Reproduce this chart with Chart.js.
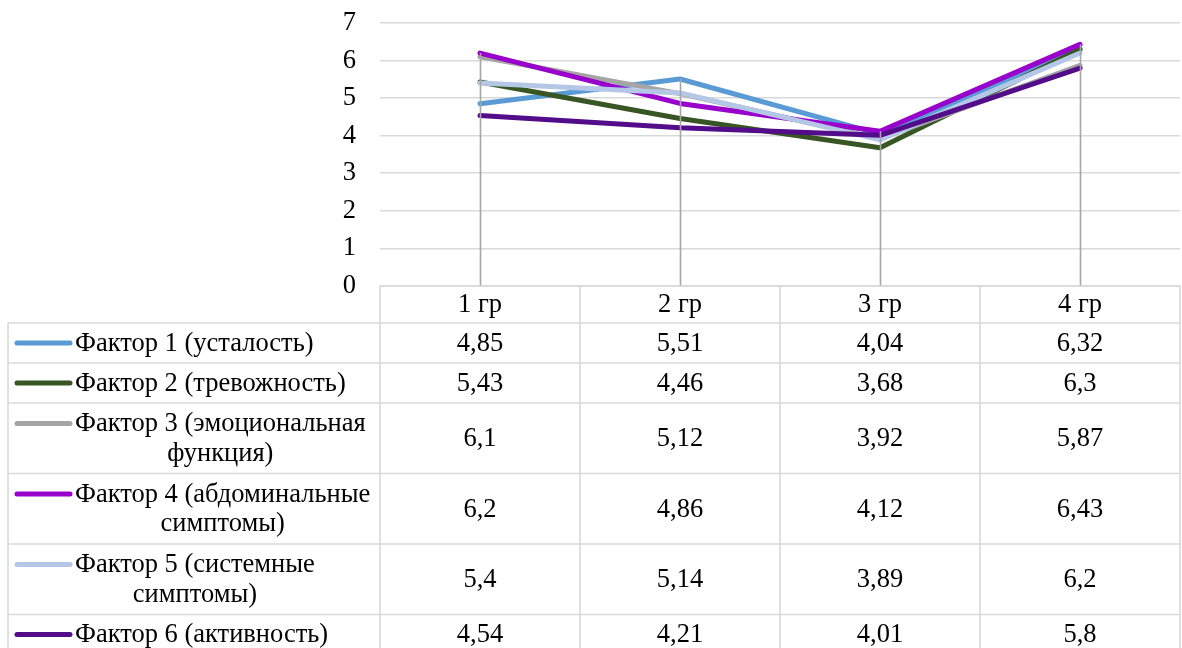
<!DOCTYPE html>
<html lang="ru">
<head>
<meta charset="utf-8">
<title>Факторы по группам</title>
<script src="https://cdn.jsdelivr.net/npm/chart.js@4.4.1/dist/chart.umd.min.js"></script>
<style>
  html, body { margin: 0; padding: 0; background: #ffffff; }
  #wrap { width: 1182px; height: 648px; position: relative; overflow: hidden; }
</style>
</head>
<body>
<div id="wrap"><canvas id="chart" width="1182" height="648"></canvas></div>
<script>
// Groups on the x axis
const categories = ['1 гр', '2 гр', '3 гр', '4 гр'];

// Series names; "\n" marks where the name wraps inside the table cell
const seriesNames = [
  'Фактор 1 (усталость)',
  'Фактор 2 (тревожность)',
  'Фактор 3 (эмоциональная\nфункция)',
  'Фактор 4 (абдоминальные\nсимптомы)',
  'Фактор 5 (системные\nсимптомы)',
  'Фактор 6 (активность)'
];

// Mean scores per group
const factor1 = [4.85, 5.51, 4.04, 6.32];
const factor2 = [5.43, 4.46, 3.68, 6.3];
const factor3 = [6.1, 5.12, 3.92, 5.87];
const factor4 = [6.2, 4.86, 4.12, 6.43];
const factor5 = [5.4, 5.14, 3.89, 6.2];
const factor6 = [4.54, 4.21, 4.01, 5.8];

// Value axis ticks
const yTicks = [0, 1, 2, 3, 4, 5, 6, 7];

const seriesValues = [factor1, factor2, factor3, factor4, factor5, factor6];
const seriesColors = ['#5b9bd5', '#375623', '#a5a5a5', '#9900cc', '#b4c7e7', '#530c8a'];

const FONT = '"Liberation Serif", "Times New Roman", serif';
const FONT_SIZE = 26.5;
const GRID = '#d9d9d9';

const fmt = v => String(v).replace('.', ',');

// Vertical drop lines from the highest value of each group down to the axis
const dropLines = {
  id: 'dropLines',
  afterDatasetsDraw(chart) {
    const { ctx, chartArea } = chart;
    const x = chart.scales.x, y = chart.scales.y;
    ctx.save();
    ctx.strokeStyle = '#a6a6a6';
    ctx.lineWidth = 1.6;
    categories.forEach((c, i) => {
      const top = Math.max(...seriesValues.map(s => s[i]));
      const px = Math.round(x.getPixelForValue(i)) + 0.5;
      ctx.beginPath();
      ctx.moveTo(px, y.getPixelForValue(top));
      ctx.lineTo(px, chartArea.bottom);
      ctx.stroke();
    });
    ctx.restore();
  }
};

// Data table under the plot: header row with groups, then one row per series
const dataTable = {
  id: 'dataTable',
  afterDraw(chart) {
    const { ctx, chartArea } = chart;
    const x = chart.scales.x;
    const left = chartArea.left, right = chartArea.right;
    const tableLeft = 8;
    const headerTop = chartArea.bottom;
    const headerH = 37;
    const lineGap = 29.5;
    const colW = (right - left) / categories.length;

    ctx.save();
    ctx.font = FONT_SIZE + 'px ' + FONT;
    ctx.fillStyle = '#000000';
    ctx.textBaseline = 'middle';

    // row geometry
    const rows = [];
    let top = headerTop + headerH;
    seriesNames.forEach(name => {
      const lines = name.split('\n');
      const h = lines.length === 1 ? 40 : 70.5;
      rows.push({ top, h, lines });
      top += h;
    });

    // borders
    ctx.strokeStyle = GRID;
    ctx.lineWidth = 1.6;
    const bottom = top;
    ctx.beginPath();
    for (let k = 0; k <= categories.length; k++) {
      const vx = left + k * colW;
      ctx.moveTo(vx, headerTop);
      ctx.lineTo(vx, bottom);
    }
    ctx.moveTo(tableLeft, headerTop + headerH);
    ctx.lineTo(tableLeft, bottom);
    ctx.moveTo(left, headerTop);
    ctx.lineTo(right, headerTop);
    rows.forEach(r => {
      ctx.moveTo(tableLeft, r.top);
      ctx.lineTo(right, r.top);
    });
    ctx.stroke();

    // header labels
    ctx.textAlign = 'center';
    categories.forEach((c, i) => {
      ctx.fillText(c, x.getPixelForValue(i), headerTop + headerH / 2 + 1);
    });

    // series rows
    rows.forEach((r, s) => {
      const mid = r.top + r.h / 2;
      const firstY = mid - (r.lines.length - 1) * lineGap / 2;

      // legend key
      ctx.strokeStyle = seriesColors[s];
      ctx.lineWidth = 5;
      ctx.lineCap = 'round';
      ctx.beginPath();
      ctx.moveTo(17, firstY);
      ctx.lineTo(70, firstY);
      ctx.stroke();

      // name, lines centred within the block
      const textLeft = 75;
      const blockW = Math.max(...r.lines.map(l => ctx.measureText(l).width));
      ctx.textAlign = 'center';
      r.lines.forEach((l, j) => {
        ctx.fillText(l, textLeft + blockW / 2, firstY + j * lineGap + 1);
      });

      // values
      seriesValues[s].forEach((v, i) => {
        ctx.fillText(fmt(v), x.getPixelForValue(i), mid + 1);
      });
    });
    ctx.restore();
  }
};

const datasets = seriesNames.map((name, i) => ({
  label: name.replace('\n', ' '),
  data: seriesValues[i],
  borderColor: seriesColors[i],
  backgroundColor: seriesColors[i],
  borderWidth: 5,
  borderCapStyle: 'round',
  borderJoinStyle: 'round',
  pointRadius: 0,
  pointHoverRadius: 0,
  tension: 0,
  fill: false,
  order: seriesNames.length - i
}));

new Chart(document.getElementById('chart'), {
  type: 'line',
  data: { labels: categories, datasets },
  options: {
    responsive: false,
    devicePixelRatio: 1,
    animation: false,
    events: [],
    layout: { padding: { left: 0, right: 2, top: 23, bottom: 362 } },
    plugins: { legend: { display: false }, tooltip: { enabled: false } },
    scales: {
      x: {
        type: 'category',
        offset: true,
        display: false
      },
      y: {
        min: yTicks[0],
        max: yTicks[yTicks.length - 1],
        afterFit(scale) {
          scale.width = 380;
          scale.paddingTop = 0;
          scale.paddingBottom = 0;
        },
        afterBuildTicks(scale) { scale.ticks = yTicks.map(v => ({ value: v })); },
        border: { display: false },
        grid: { color: GRID, lineWidth: 1.6, drawTicks: false },
        ticks: {
          padding: 24,
          color: '#000000',
          font: { family: FONT, size: FONT_SIZE },
          callback: v => fmt(v)
        }
      }
    }
  },
  plugins: [dropLines, dataTable]
});
</script>
</body>
</html>
